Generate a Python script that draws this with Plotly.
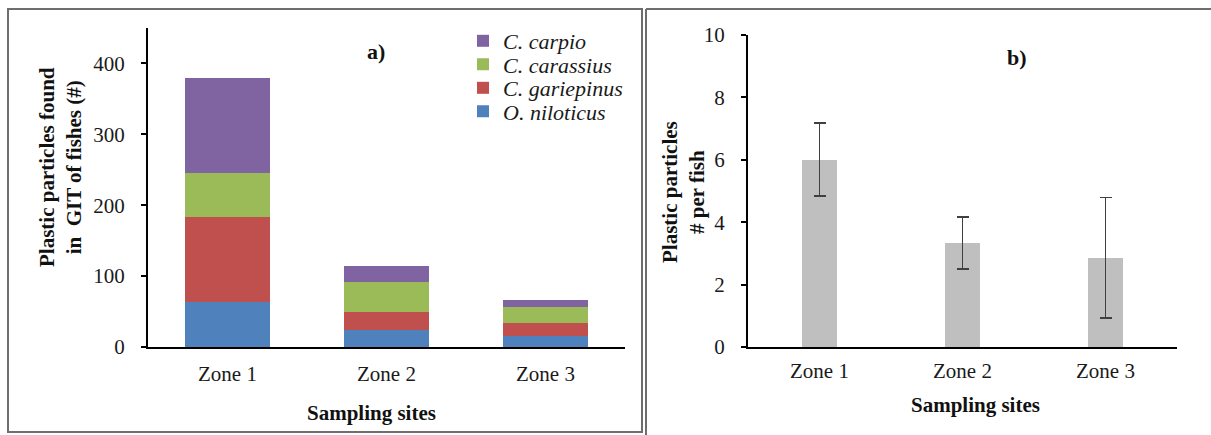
import plotly.graph_objects as go

zones = ["Zone 1", "Zone 2", "Zone 3"]
species = ["<i>O. niloticus</i>", "<i>C. gariepinus</i>", "<i>C. carassius</i>", "<i>C. carpio</i>"]
o_niloticus = [64, 24, 16]
c_gariepinus = [119, 26, 18]
c_carassius = [62, 41, 22]
c_carpio = [134, 23, 10]
species_colors = ["#4F81BD", "#C0504D", "#9BBB59", "#8064A2"]

per_fish = [6.0, 3.33, 2.86]
per_fish_err = [1.17, 0.83, 1.93]

W, H = 1211, 435
FONT = "Liberation Serif"
TXT = "#1a1a1a"

def px(x):
    return x / W

def py(y):
    return 1 - y / H

fig = go.Figure()

legend_ids = ["legend4", "legend3", "legend2", "legend"]
for name, vals, col, lid in zip(species, [o_niloticus, c_gariepinus, c_carassius, c_carpio],
                                species_colors, legend_ids):
    fig.add_trace(go.Bar(x=zones, y=vals, name=name, marker=dict(color=col, line=dict(width=0)),
                         width=0.53, xaxis="x", yaxis="y", legend=lid))

fig.add_trace(go.Bar(x=zones, y=per_fish, showlegend=False, width=0.25,
                     marker=dict(color="#BFBFBF", line=dict(width=0)),
                     error_y=dict(type="data", array=per_fish_err, color="#404040", thickness=1.8, width=6),
                     xaxis="x2", yaxis="y2"))

axis_common = dict(showgrid=False, zeroline=False, showline=True, linecolor="#000000", linewidth=2,
                   automargin=False, tickfont=dict(family=FONT, size=21, color=TXT))

leg_common = dict(xanchor="left", yanchor="middle", font=dict(family=FONT, size=22, color=TXT),
                  bgcolor="rgba(0,0,0,0)", itemwidth=30)
row_y = [41, 64.5, 88, 111.5]

fig.update_layout(
    width=W, height=H,
    margin=dict(l=0, r=0, t=0, b=0, autoexpand=False),
    paper_bgcolor="white", plot_bgcolor="white",
    barmode="stack",
    font=dict(family=FONT, color=TXT),
    xaxis=dict(domain=[px(148), px(625)], anchor="y", range=[-0.5, 2.5], ticks="",
               ticklabelstandoff=7, **axis_common),
    yaxis=dict(domain=[py(347), py(28)], anchor="x", range=[0, 450], tickvals=[0, 100, 200, 300, 400],
               ticks="outside", ticklen=5, tickwidth=1.5, tickcolor="#000000",
               ticklabelstandoff=12, **axis_common),
    xaxis2=dict(domain=[px(748), px(1177)], anchor="y2", range=[-0.5, 2.5], ticks="",
                ticklabelstandoff=4, **axis_common),
    yaxis2=dict(domain=[py(347), py(35)], anchor="x2", range=[0, 10], tickvals=[0, 2, 4, 6, 8, 10],
                ticks="outside", ticklen=5, tickwidth=1.5, tickcolor="#000000",
                ticklabelstandoff=12, **axis_common),
    legend=dict(x=px(463), y=py(row_y[0]), **leg_common),
    legend2=dict(x=px(463), y=py(row_y[1]), **leg_common),
    legend3=dict(x=px(463), y=py(row_y[2]), **leg_common),
    legend4=dict(x=px(463), y=py(row_y[3]), **leg_common),
    showlegend=True,
)

ann = [
    dict(text="<b>a)</b>", x=px(376), y=py(52), font=dict(size=22)),
    dict(text="<b>b)</b>", x=px(1017), y=py(58), font=dict(size=22)),
    dict(text="<b>Sampling sites</b>", x=px(371), y=py(413), font=dict(size=21)),
    dict(text="<b>Sampling sites</b>", x=px(976), y=py(405), font=dict(size=21)),
    dict(text="<b>Plastic particles found<br>in  GIT of fishes (#)</b>", x=px(61), y=py(167),
         textangle=-90, font=dict(size=21)),
    dict(text="<b>Plastic particles<br># per fish</b>", x=px(683), y=py(192),
         textangle=-90, font=dict(size=21)),
]
for a in ann:
    a.update(xref="paper", yref="paper", showarrow=False, xanchor="center", yanchor="middle")
    a["font"].update(family=FONT, color="#111111")
    fig.add_annotation(**a)

border = dict(color="#6e6e6e", width=2)
fig.add_shape(type="rect", xref="paper", yref="paper", x0=px(8), x1=px(642), y0=py(432), y1=py(9),
              line=border, fillcolor="rgba(0,0,0,0)")
fig.add_shape(type="line", xref="paper", yref="paper", x0=px(646), x1=px(646), y0=py(435), y1=py(9),
              line=border)
fig.add_shape(type="line", xref="paper", yref="paper", x0=px(646), x1=1, y0=py(9), y1=py(9),
              line=border)

fig.write_html("out.html", config={"displayModeBar": False},
               post_script="document.body.style.margin='0px';document.body.style.overflow='hidden';")
